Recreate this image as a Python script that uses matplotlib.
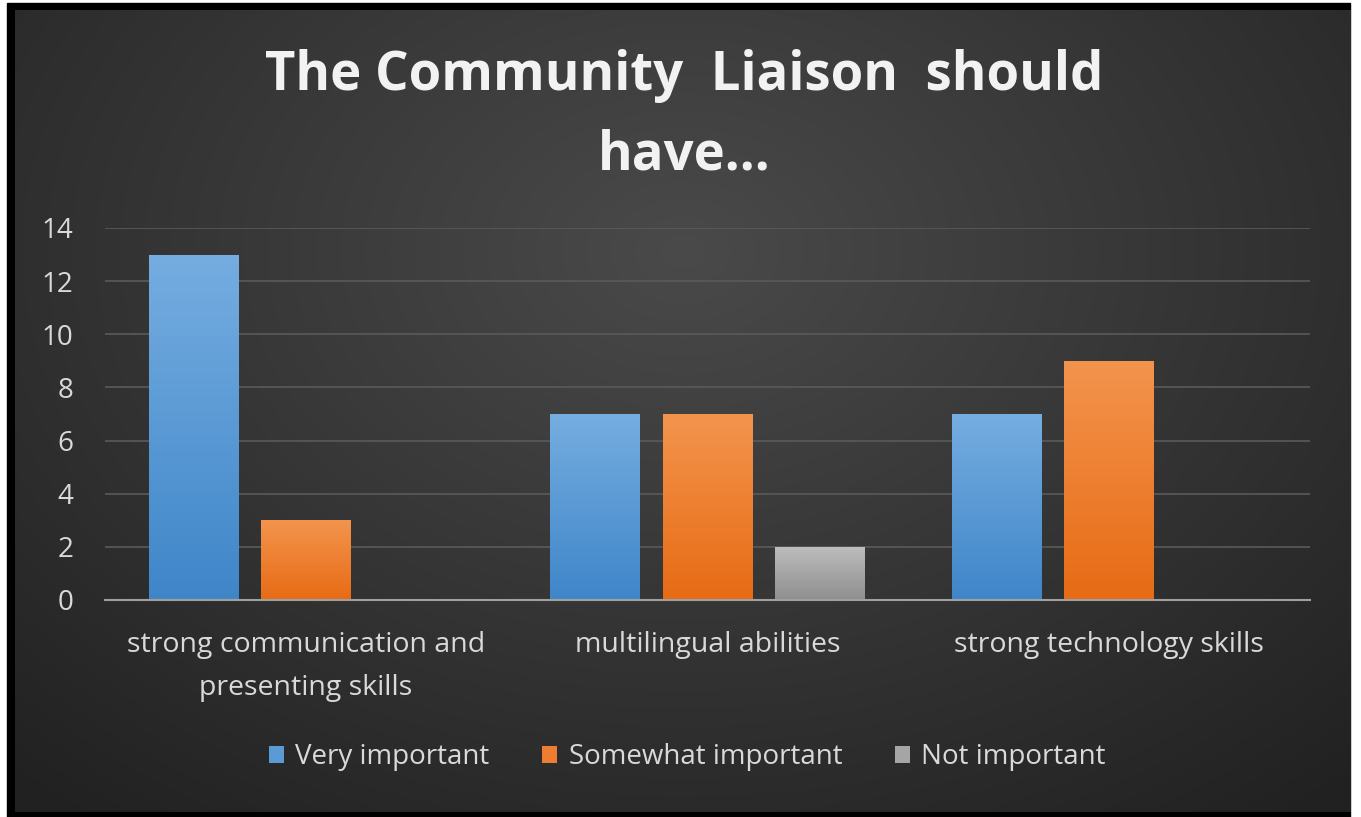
import numpy as np
import matplotlib
matplotlib.use("Agg")
import matplotlib.pyplot as plt
from matplotlib.patches import Rectangle

categories = ["strong communication and\npresenting skills",
              "multilingual abilities",
              "strong technology skills"]
series_names = ["Very important", "Somewhat important", "Not important"]
very_important = [13, 7, 7]
somewhat_important = [3, 7, 9]
not_important = [0, 2, 0]
yticks = [0, 2, 4, 6, 8, 10, 12, 14]

colors = ["#5b9bd5", "#ed7d31", "#a5a5a5"]
light = ["#75ade0", "#f3944d", "#bdbdbd"]
dark = ["#3f86c9", "#e76b15", "#8f8f8f"]

plt.rcParams["font.family"] = ["Open Sans", "DejaVu Sans"]

W, H = 1361, 817
fig = plt.figure(figsize=(W / 100, H / 100), dpi=100, facecolor="white")

# background: black frame + dark gradient panel (pixel coordinates)
bg = fig.add_axes([0, 0, 1, 1], zorder=-10)
bg.add_patch(Rectangle((7, 3), 1350 - 7, 812 - 3 + 10, color="black", zorder=0))
yy, xx = np.mgrid[0:1:300j, 0:1:500j]
r = np.sqrt(((xx - 0.5) / 0.75) ** 2 + ((yy - 0.3) / 0.9) ** 2)
shade = np.clip(0.29 - 0.16 * r, 0.13, 0.3)
img = np.dstack([shade, shade, shade])
bg.imshow(img, extent=[15, 1351, 812, 10], aspect="auto", origin="upper", zorder=1)
bg.set_xlim(0, W)
bg.set_ylim(H, 0)
bg.axis("off")

ax = fig.add_axes([105 / W, 1 - 600 / H, 1205 / W, (600 - 228) / H])
ax.patch.set_alpha(0)

data = [very_important, somewhat_important, not_important]
x = np.arange(len(categories))
step = 0.279
width = 0.224
for i, (vals, name) in enumerate(zip(data, series_names)):
    pos = x + (i - 1) * step
    bars = ax.bar(pos, vals, width, color=colors[i], label=name, zorder=3)
    cmap = matplotlib.colors.LinearSegmentedColormap.from_list("g", [light[i], dark[i]])
    for b in bars:
        h = b.get_height()
        if h <= 0:
            continue
        grad = np.linspace(0, 1, 100).reshape(-1, 1)
        im = ax.imshow(grad, extent=[b.get_x(), b.get_x() + b.get_width(), 0, h],
                       cmap=cmap, aspect="auto", zorder=3.5, origin="upper")
        im.set_clip_path(b)

ax.set_xlim(-0.5, 2.5)
ax.set_ylim(0, 14)
ax.set_yticks(yticks)
ax.set_xticks(x)
ax.set_xticklabels(categories, fontsize=20.5, color="#d9d9d9", linespacing=1.75)
ax.tick_params(axis="y", labelsize=20, colors="#d9d9d9", length=0, pad=23)
ax.tick_params(axis="x", length=0, pad=22)
ax.grid(axis="y", color="#5a5a5a", linewidth=1.2, zorder=0)
for s in ["top", "right", "left"]:
    ax.spines[s].set_visible(False)
ax.spines["bottom"].set_color("#a0a0a0")
ax.spines["bottom"].set_linewidth(1.5)
ax.spines["bottom"].set_zorder(4)

fig.text(0.503, 1 - 76 / H, "The Community  Liaison  should", ha="center", va="center",
         fontsize=38, fontweight="bold", color="#f2f2f2")
fig.text(0.503, 1 - 156 / H, "have...", ha="center", va="center",
         fontsize=38, fontweight="bold", color="#f2f2f2")

leg = fig.legend(loc="center", bbox_to_anchor=(0.505, 1 - 757 / H), ncol=3, frameon=False,
                 fontsize=20, handlelength=0.55, handleheight=0.55, handletextpad=0.4,
                 columnspacing=1.9, labelcolor="#d9d9d9")

fig.savefig("out.png", dpi=100, facecolor="white")
